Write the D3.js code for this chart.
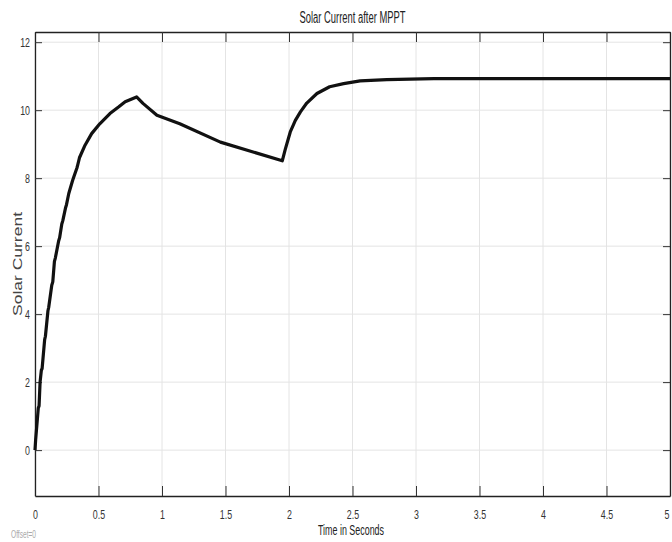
<!DOCTYPE html>
<html>
<head>
<meta charset="utf-8">
<script src="https://cdn.jsdelivr.net/npm/d3@7"></script>
<style>
  body { margin: 0; background: #fff; }
  text { font-family: 'Liberation Sans Narrow', 'Arial Narrow', 'Liberation Sans', sans-serif; }
</style>
</head>
<body>
<svg id="chart" width="672" height="542"></svg>
<script>
// ------- Data -------
const xTicks = [0, 0.5, 1, 1.5, 2, 2.5, 3, 3.5, 4, 4.5, 5];
const yTicks = [0, 2, 4, 6, 8, 10, 12];

const time = [0, 0.005, 0.026, 0.032, 0.04, 0.05, 0.056, 0.076, 0.082, 0.102, 0.108,
  0.132, 0.14, 0.153, 0.16, 0.186, 0.194, 0.211, 0.219, 0.24, 0.248, 0.266, 0.274,
  0.296, 0.304, 0.33, 0.337, 0.35, 0.394, 0.446, 0.51, 0.59, 0.66, 0.71, 0.8,
  0.85, 0.96, 1.14, 1.46, 1.947, 1.97, 2.01, 2.05, 2.09, 2.14, 2.22, 2.32, 2.43, 2.56, 2.77, 3.14, 5];
const current = [0, 0.3, 1.24, 1.3, 2.0, 2.35, 2.4, 3.25, 3.35, 4.1, 4.2,
  4.85, 4.95, 5.55, 5.65, 6.15, 6.25, 6.65, 6.75, 7.12, 7.22, 7.55, 7.65,
  7.93, 8.02, 8.3, 8.4, 8.6, 8.97, 9.31, 9.6, 9.9, 10.1, 10.25, 10.39,
  10.2, 9.85, 9.6, 9.06, 8.51, 8.84, 9.36, 9.7, 9.95, 10.21, 10.49, 10.69, 10.78, 10.86, 10.9, 10.93, 10.93];

const data = time.map((t, i) => ({t, v: current[i]}));

// ------- Set up -------
const svg = d3.select('#chart');
const margin = {top: 32, bottom: 46, left: 35, right: 2};
const width = 672, height = 542;

const x = d3.scaleLinear().domain([0, 5]).range([margin.left, width - margin.right]);
const y = d3.scaleLinear().domain([-1.35, 12.3]).range([height - margin.bottom, margin.top]);

// squeeze text horizontally like the reference
const squeeze = (sel, k) => sel.each(function() {
    const len = this.getComputedTextLength();
    d3.select(this).attr('textLength', len * k).attr('lengthAdjust', 'spacingAndGlyphs');
});

// ------- Grid -------
const grid = svg.append('g').attr('stroke', '#e4e4e4').attr('stroke-width', 1);
grid.selectAll('line.vx')
    .data(xTicks)
    .enter().append('line')
        .attr('x1', d => x(d)).attr('x2', d => x(d))
        .attr('y1', y.range()[1]).attr('y2', y.range()[0]);
grid.selectAll('line.hy')
    .data(yTicks)
    .enter().append('line')
        .attr('x1', x.range()[0]).attr('x2', x.range()[1])
        .attr('y1', d => y(d)).attr('y2', d => y(d));

// ------- Axes (inward ticks on all sides) -------
const axisB = svg.append('g')
    .attr('transform', `translate(0, ${y.range()[0]})`)
    .call(d3.axisBottom(x).tickValues(xTicks).tickSizeInner(-10).tickSizeOuter(0).tickPadding(14).tickFormat(d3.format('')));
const axisT = svg.append('g')
    .attr('transform', `translate(0, ${y.range()[1]})`)
    .call(d3.axisTop(x).tickValues(xTicks).tickSizeInner(-10).tickSizeOuter(0).tickFormat(''));
const axisL = svg.append('g')
    .attr('transform', `translate(${x.range()[0]}, 0)`)
    .call(d3.axisLeft(y).tickValues(yTicks).tickSizeInner(-7).tickSizeOuter(0).tickPadding(5));
const axisR = svg.append('g')
    .attr('transform', `translate(${x.range()[1]}, 0)`)
    .call(d3.axisRight(y).tickValues(yTicks).tickSizeInner(-7).tickSizeOuter(0).tickFormat(''));

[axisB, axisT, axisL, axisR].forEach(a => {
    a.select('.domain').attr('stroke', '#222').attr('stroke-width', 1.3);
    a.selectAll('.tick line').attr('stroke', '#333');
    a.selectAll('.tick text')
        .attr('fill', '#333')
        .style('font-size', '13px')
        .call(squeeze, 0.68);
});
// last x label sits at the right edge; keep it inside the page
axisB.selectAll('.tick text').filter(d => d === 5).attr('text-anchor', 'end').attr('dx', -1);

// ------- The current trace -------
const line = d3.line().x(d => x(d.t)).y(d => y(d.v));
svg.append('path')
    .datum(data)
    .attr('fill', 'none')
    .attr('stroke', '#111')
    .attr('stroke-width', 3.2)
    .attr('stroke-linejoin', 'round')
    .attr('d', line);

// ------- Labels -------
svg.append('text')
    .attr('x', (x.range()[0] + x.range()[1]) / 2)
    .attr('y', 23)
    .attr('text-anchor', 'middle')
    .attr('fill', '#222')
    .style('font-size', '16px')
    .text('Solar Current after MPPT')
    .attr('textLength', 106).attr('lengthAdjust', 'spacingAndGlyphs');

svg.append('text')
    .attr('x', 351)
    .attr('y', 535)
    .attr('text-anchor', 'middle')
    .attr('fill', '#222')
    .style('font-size', '14px')
    .text('Time in Seconds')
    .attr('textLength', 66).attr('lengthAdjust', 'spacingAndGlyphs');

svg.append('text')
    .attr('transform', 'translate(22, 264) rotate(-90)')
    .attr('text-anchor', 'middle')
    .attr('fill', '#444')
    .style('font-family', "'Liberation Sans', Arial, sans-serif")
    .style('font-size', '13px')
    .text('Solar Current')
    .attr('textLength', 104).attr('lengthAdjust', 'spacingAndGlyphs');

svg.append('text')
    .attr('x', 11)
    .attr('y', 538)
    .attr('fill', '#aaa')
    .style('font-size', '10px')
    .text('Offset=0')
    .attr('textLength', 25).attr('lengthAdjust', 'spacingAndGlyphs');
</script>
</body>
</html>
